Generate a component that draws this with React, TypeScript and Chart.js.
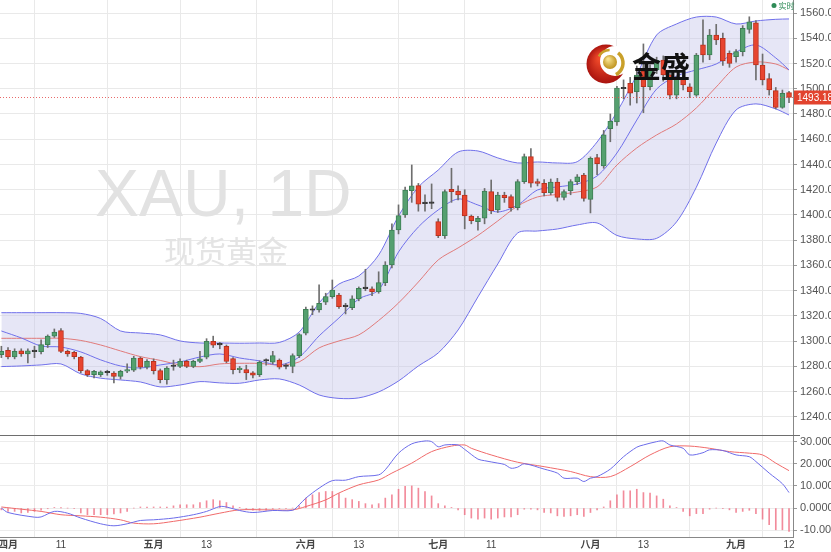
import { useEffect, useRef } from 'react';
import { Chart, registerables } from 'chart.js';

Chart.register(...registerables);

// ---- candle data (index -1 = 29 Mar ... 118 = 12 Sep) ----
const START = -1;
const opens = [
  1289.4, 1292.8, 1287.5, 1292.3, 1289.9, 1291.8, 1291.7, 1297.3, 1304.0, 1308.4,
  1292.0, 1291.2, 1287.5, 1276.7, 1273.5, 1273.5, 1275.5, 1274.8, 1272.2, 1276.2,
  1277.0, 1286.7, 1279.4, 1284.0, 1276.7, 1269.6, 1280.0, 1280.0, 1284.0, 1280.0,
  1284.0, 1287.3, 1300.0, 1297.5, 1296.0, 1286.2, 1277.5, 1277.5, 1275.0, 1273.5,
  1284.3, 1283.3, 1285.0, 1280.0, 1280.0, 1288.6, 1306.3, 1324.5, 1324.8, 1330.9,
  1335.3, 1336.6, 1327.4, 1326.6, 1333.5, 1341.6, 1341.4, 1339.2, 1346.4, 1360.4,
  1388.1, 1400.0, 1419.3, 1423.2, 1409.0, 1409.6, 1394.7, 1383.6, 1420.4, 1419.0,
  1415.8, 1399.2, 1394.7, 1397.4, 1418.5, 1404.0, 1415.8, 1414.5, 1405.8, 1426.4,
  1446.2, 1426.4, 1425.1, 1417.7, 1426.0, 1414.0, 1419.3, 1426.4, 1431.7, 1412.4,
  1445.4, 1438.8, 1468.4, 1473.7, 1500.4, 1504.3, 1497.7, 1514.0, 1501.6, 1515.0,
  1522.8, 1511.0, 1495.0, 1508.0, 1501.6, 1495.0, 1534.7, 1526.7, 1542.6, 1540.0,
  1528.0, 1525.4, 1529.4, 1547.0, 1552.3, 1518.8, 1508.0, 1498.5, 1485.3, 1496.9,
];
const closes = [
  1292.0, 1287.5, 1292.0, 1289.9, 1292.3, 1292.2, 1297.3, 1304.0, 1307.3, 1292.0,
  1290.0, 1287.8, 1276.7, 1273.5, 1276.2, 1275.7, 1275.0, 1272.2, 1276.2, 1277.5,
  1286.7, 1279.4, 1284.0, 1276.7, 1269.6, 1278.8, 1280.3, 1284.0, 1280.0, 1284.0,
  1286.0, 1300.0, 1296.8, 1297.1, 1284.0, 1277.5, 1278.2, 1274.9, 1273.0, 1283.2,
  1284.6, 1288.6, 1279.4, 1280.3, 1288.6, 1305.2, 1325.3, 1325.0, 1330.0, 1335.3,
  1340.6, 1327.4, 1327.8, 1333.5, 1341.9, 1341.9, 1339.2, 1346.4, 1360.4, 1388.1,
  1399.5, 1419.8, 1423.0, 1408.5, 1409.5, 1409.2, 1383.6, 1418.5, 1418.5, 1415.8,
  1399.2, 1395.5, 1397.3, 1419.0, 1403.4, 1415.8, 1413.7, 1405.8, 1426.4, 1446.2,
  1425.1, 1425.0, 1417.7, 1426.0, 1414.0, 1418.5, 1426.4, 1430.3, 1413.2, 1444.9,
  1440.6, 1463.4, 1474.2, 1500.6, 1500.0, 1496.4, 1510.9, 1501.6, 1514.9, 1522.5,
  1510.9, 1495.0, 1508.0, 1503.0, 1497.7, 1526.7, 1526.7, 1542.6, 1538.6, 1522.0,
  1520.0, 1529.4, 1547.9, 1553.0, 1518.8, 1507.0, 1499.0, 1485.3, 1496.4, 1493.2,
];
const highs = [
  1296, 1295, 1294, 1294, 1294, 1296, 1301, 1305, 1309.7, 1310,
  1293, 1292, 1288, 1277.5, 1277, 1276.5, 1277, 1276, 1277, 1282,
  1288, 1287.5, 1285.5, 1286, 1278, 1280, 1285, 1286, 1285, 1285,
  1292, 1302, 1304, 1299, 1297, 1287, 1280, 1281, 1276, 1284.5,
  1286, 1292, 1286, 1282, 1290, 1306, 1327, 1328, 1344.6, 1338,
  1348.5, 1338, 1330, 1336, 1343, 1357, 1343, 1355, 1363, 1393,
  1408, 1422, 1439.6, 1425, 1416, 1424.6, 1397, 1420, 1437, 1423,
  1420, 1400, 1399, 1421, 1427.7, 1418, 1418, 1416, 1428, 1448.3,
  1452.6, 1428.5, 1428, 1428.5, 1429, 1420, 1428, 1432, 1433, 1446,
  1448, 1467, 1480, 1502, 1507, 1509, 1518, 1535.5, 1519, 1525,
  1526, 1513, 1510, 1511, 1504, 1528, 1554.5, 1547, 1551, 1544,
  1530, 1531, 1550, 1557, 1554, 1527.5, 1512, 1501, 1499, 1498,
];
const lows = [
  1287, 1286, 1286, 1288, 1282.8, 1287, 1290, 1295, 1303, 1291,
  1288, 1286, 1275, 1272, 1271, 1272, 1273, 1266.9, 1270, 1275,
  1276, 1278, 1278, 1274, 1267, 1266, 1277, 1279, 1279, 1279,
  1283, 1286, 1295, 1294, 1283, 1274, 1275, 1269.6, 1271, 1272,
  1281, 1282, 1278, 1278, 1275, 1287, 1305, 1321, 1323, 1329,
  1334, 1326, 1321.6, 1325, 1332, 1340, 1336, 1338, 1344, 1358,
  1385, 1398, 1410, 1403, 1403, 1405, 1382, 1381.5, 1410, 1412,
  1389, 1393, 1388, 1393, 1401, 1402, 1410, 1403, 1404, 1425,
  1422, 1423, 1415, 1416, 1411, 1412, 1416, 1424, 1411, 1401.6,
  1432, 1437, 1458, 1471, 1492, 1487, 1488.7, 1481, 1499, 1512,
  1506, 1492, 1492, 1499, 1493, 1494, 1521, 1523, 1535, 1518.5,
  1517, 1521, 1526, 1544, 1507, 1503, 1495, 1484, 1484.5, 1489,
];

// ---- Bollinger band + moving averages (read at sample days) ----
const bandIdx = [-1, 2, 5, 8, 11, 14, 17, 20, 23, 26, 29, 32, 35, 38, 41, 44, 47, 50, 53, 56, 59, 62, 65, 68, 71, 74, 77, 80, 83, 86, 89, 92, 95, 98, 101, 104, 107, 110, 113, 116, 118];
const upperBand = [1322.6, 1322.6, 1322.6, 1322.6, 1322.0, 1318.0, 1308.1, 1306.5, 1305.0, 1300.2, 1298.6, 1298.6, 1298.4, 1298.6, 1299.0, 1307.3, 1330.3, 1345.3, 1351.7, 1368.3, 1399.2, 1422.2, 1435.6, 1449.9, 1450.7, 1445.2, 1441.2, 1442.0, 1441.2, 1442.2, 1457.8, 1481.6, 1510.9, 1542.6, 1551.3, 1556.8, 1556.8, 1551.3, 1553.7, 1555.0, 1555.3];
const lowerBand = [1279.9, 1280.4, 1281.2, 1282.0, 1274.1, 1270.7, 1269.3, 1267.7, 1263.8, 1265.3, 1268.0, 1267.0, 1266.7, 1269.3, 1270.1, 1265.3, 1257.4, 1254.7, 1255.1, 1259.8, 1268.5, 1280.4, 1290.7, 1308.9, 1335.1, 1361.2, 1385.7, 1387.3, 1388.9, 1392.1, 1393.7, 1383.8, 1381.0, 1381.5, 1394.5, 1422.0, 1457.0, 1483.2, 1488.0, 1484.0, 1479.2];
const midLine = [1302.3, 1302.3, 1302.3, 1302.3, 1300.6, 1297.0, 1292.3, 1287.8, 1284.8, 1281.2, 1279.8, 1282.0, 1282.5, 1282.4, 1281.2, 1283.6, 1294.7, 1300.2, 1305.0, 1316.4, 1330.3, 1346.9, 1364.4, 1373.9, 1383.8, 1395.3, 1407.1, 1414.3, 1416.2, 1418.2, 1422.2, 1439.6, 1453.1, 1463.4, 1472.1, 1484.8, 1501.4, 1517.2, 1521.2, 1519.6, 1514.9];
const fastLine = [1308.1, 1302.6, 1296.2, 1295.4, 1291.5, 1285.2, 1280.4, 1278.8, 1281.2, 1283.6, 1287.5, 1289.9, 1286.7, 1284.4, 1281.2, 1287.5, 1304.2, 1318.4, 1333.5, 1340.6, 1370.7, 1390.5, 1404.0, 1412.7, 1407.9, 1402.4, 1407.9, 1419.8, 1422.2, 1424.6, 1430.9, 1449.1, 1475.2, 1499.8, 1510.1, 1514.9, 1519.6, 1529.1, 1534.7, 1524.4, 1514.9];

// ---- MACD ----
const difIdx = [-1, 0, 4, 5, 7, 9, 11, 14, 16, 18, 20, 22, 25, 28, 30, 32, 33, 35, 37, 40, 43, 44, 45, 47, 49, 51, 53, 56, 57, 59, 61, 63, 64, 65, 66, 68, 69, 71, 72, 74, 75, 76, 77, 78, 81, 83, 84, 86, 87, 88, 89, 91, 93, 95, 96, 98, 99, 100, 102, 103, 105, 106, 108, 110, 112, 113, 115, 117, 118];
const difVals = [0.0, -2.0, -4.1, -4.0, -1.5, -2.3, -4.5, -7.1, -8.0, -7.1, -5.6, -5.3, -4.5, -3.0, -1.5, 0.7, 0.5, -1.1, -2.0, -1.1, -1.0, 1.5, 4.5, 9.0, 12.4, 12.6, 14.2, 15.0, 17.3, 24.8, 29.0, 30.3, 30.0, 27.7, 28.5, 28.5, 26.5, 22.1, 21.4, 20.3, 19.7, 18.0, 18.5, 20.0, 17.6, 15.8, 13.5, 13.5, 12.0, 13.5, 14.2, 17.6, 23.2, 27.5, 28.5, 30.0, 30.3, 28.5, 27.0, 24.0, 25.0, 26.3, 26.0, 24.0, 23.2, 21.0, 15.8, 11.0, 7.0];
const deaIdx = [-1, 2, 5, 8, 11, 14, 17, 19, 22, 25, 29, 32, 35, 39, 43, 45, 48, 50, 53, 56, 58, 61, 64, 67, 69, 70, 73, 77, 81, 85, 88, 91, 94, 97, 100, 103, 106, 109, 112, 114, 116, 118];
const deaVals = [0.5, -0.5, -1.5, -3.0, -3.5, -4.1, -5.3, -6.8, -7.1, -6.0, -4.1, -2.3, -0.8, -0.8, -0.8, 0.7, 3.7, 6.8, 10.5, 12.7, 15.8, 20.3, 25.5, 28.0, 28.5, 27.0, 24.0, 20.7, 18.7, 16.5, 14.2, 14.2, 18.7, 24.0, 27.7, 28.0, 27.0, 25.5, 24.8, 24.0, 20.3, 16.9];
const macdHist = [
  -0.8, -1.5, -1.5, -2.2, -2.0, -1.5, -1.0, -0.3, 0.3, 0.1,
  0.0, -0.2, -2.2, -3.0, -3.0, -3.0, -3.0, -2.6, -2.2, -1.5,
  0.0, 0.5, 0.5, 0.5, 0.5, 0.5, 1.0, 1.5, 1.5, 1.5,
  2.5, 3.3, 3.8, 3.3, 2.5, 1.0, 0.3, -0.5, -1.0, -1.0,
  -1.0, -0.5, -0.3, -0.3, 0.0, 1.0, 4.5, 6.0, 7.0, 7.5,
  7.5, 6.5, 4.5, 3.8, 3.0, 2.0, 1.5, 2.0, 4.5, 6.0,
  8.5, 9.8, 10.0, 9.0, 7.5, 5.5, 2.0, 1.0, 0.3, -0.8,
  -3.0, -4.5, -5.0, -4.5, -5.0, -4.5, -4.0, -4.0, -3.0, -0.5,
  -0.5, -0.8, -2.0, -2.2, -3.5, -3.8, -3.5, -3.0, -3.8, -2.0,
  -0.8, 0.5, 3.3, 6.0, 7.8, 7.8, 8.5, 7.0, 6.8, 5.5,
  4.0, 1.0, 0.3, -1.5, -3.5, -2.5, -2.5, -0.5, 0.0, -0.3,
  -0.8, -2.0, -1.5, -1.0, -2.5, -5.0, -7.5, -9.8, -9.8, -10.5,
];

// ---- axes ----
const xTickIdx = [0, 8, 22, 30, 45, 53, 65, 73, 88, 96, 110, 118];
const xTickLabels = ['四月', '11', '五月', '13', '六月', '13', '七月', '11', '八月', '13', '九月', '12'];
const priceTicks = [1240, 1260, 1280, 1300, 1320, 1340, 1360, 1380, 1400, 1420, 1440, 1460, 1480, 1500, 1520, 1540, 1560];
const macdTicks = [-10, 0, 10, 20, 30];
const lastPrice = 1493.18;
const X_MIN = -1.21;
const X_MAX = 118.6;
const PRICE_MIN = 1225.7;
const PRICE_MAX = 1570.3;
const MACD_MIN = -13.06;
const MACD_MAX = 33.0;

const dayIdx = opens.map((_, k) => START + k);

const GREEN = '#55a06f';
const GREEN_B = '#3d7f55';
const RED = '#e8452f';
const RED_B = '#b8321f';
const BLUE = '#7070ea';
const MID_RED = '#e07a7a';

function candleKind(k: number) {
  const d = closes[k] - opens[k];
  if (Math.abs(d) < 0.6) return 'doji';
  return d > 0 ? 'up' : 'down';
}

const decorPlugin = {
  id: 'decor',
  beforeDatasetsDraw(chart: any) {
    const { ctx } = chart;
    ctx.save();
    ctx.fillStyle = '#e2e2e2';
    ctx.textBaseline = 'alphabetic';
    ctx.textAlign = 'left';
    ctx.font = '66px "Liberation Sans", Arial, sans-serif';
    ctx.fillText('XAU, 1D', 95, 216);
    ctx.fillStyle = '#e4e4e4';
    ctx.font = '31px "Noto Sans CJK SC", sans-serif';
    ctx.fillText('现货黄金', 164, 263);
    ctx.restore();
  },
  afterDraw(chart: any) {
    const { ctx, chartArea, scales } = chart;
    ctx.save();
    // panel separator
    const sepY = Math.round(scales.y2.top) + 0.5;
    ctx.strokeStyle = '#6e6e6e';
    ctx.lineWidth = 1;
    ctx.beginPath();
    ctx.moveTo(0, sepY);
    ctx.lineTo(chartArea.right + 7, sepY);
    ctx.stroke();

    // current price line
    const py = Math.round(scales.y.getPixelForValue(lastPrice)) + 0.5;
    ctx.strokeStyle = 'rgba(228,80,80,0.85)';
    ctx.setLineDash([1, 2]);
    ctx.beginPath();
    ctx.moveTo(chartArea.left, py);
    ctx.lineTo(chartArea.right, py);
    ctx.stroke();
    ctx.setLineDash([]);
    ctx.fillStyle = '#e2432e';
    ctx.fillRect(chartArea.right + 1, py - 7, 40, 14);
    ctx.fillStyle = '#ffffff';
    ctx.font = '10px "Liberation Sans", Arial, sans-serif';
    ctx.textBaseline = 'middle';
    ctx.textAlign = 'left';
    ctx.fillText(lastPrice.toFixed(2), chartArea.right + 4, py + 0.5);

    // logo: red crescent, gold swoosh and ball
    const cx = 606;
    const cy = 64;
    const g1 = ctx.createRadialGradient(cx - 6, cy - 6, 2, cx, cy, 20);
    g1.addColorStop(0, '#f04a2a');
    g1.addColorStop(1, '#a8120e');
    ctx.fillStyle = g1;
    ctx.beginPath();
    ctx.arc(cx, cy, 19.5, 0, Math.PI * 2);
    ctx.fill();
    ctx.fillStyle = '#ffffff';
    ctx.beginPath();
    ctx.arc(cx + 9, cy - 3, 15, 0, Math.PI * 2);
    ctx.fill();
    ctx.strokeStyle = '#c9a02a';
    ctx.lineWidth = 3.5;
    ctx.beginPath();
    ctx.arc(cx + 4, cy - 1, 13, -0.9, 1.1);
    ctx.stroke();
    ctx.lineWidth = 2.5;
    ctx.beginPath();
    ctx.arc(cx + 4, cy - 1, 13, -2.6, -1.6);
    ctx.stroke();
    const g2 = ctx.createRadialGradient(cx + 2, cy - 5, 1, cx + 4, cy - 2, 8);
    g2.addColorStop(0, '#f7e08a');
    g2.addColorStop(1, '#b88a12');
    ctx.fillStyle = g2;
    ctx.beginPath();
    ctx.arc(cx + 4, cy - 2, 7, 0, Math.PI * 2);
    ctx.fill();
    ctx.fillStyle = '#111111';
    ctx.font = 'bold 29px "Noto Sans CJK SC", sans-serif';
    ctx.textBaseline = 'alphabetic';
    ctx.fillText('金盛', 632, 78);

    // realtime tag
    ctx.fillStyle = '#2e8b57';
    ctx.beginPath();
    ctx.arc(774, 5.5, 2.5, 0, Math.PI * 2);
    ctx.fill();
    ctx.font = '8px "Noto Sans CJK SC", sans-serif';
    ctx.textBaseline = 'middle';
    ctx.fillText('实时', 778.5, 5.5);
    ctx.restore();
  },
};

export default function App() {
  const ref = useRef<HTMLCanvasElement>(null);

  useEffect(() => {
    if (!ref.current) return;
    Chart.defaults.font.family = '"Liberation Sans", Arial, "Noto Sans CJK SC", sans-serif';
    const lineCommon = { type: 'line' as const, pointRadius: 0, borderWidth: 1, tension: 0.3 };
    const chart = new Chart(ref.current, {
      type: 'bar',
      data: {
        datasets: [
          {
            ...lineCommon,
            label: 'upper',
            data: bandIdx.map((x, k) => ({ x, y: upperBand[k] })),
            borderColor: BLUE,
            backgroundColor: 'rgba(196,196,234,0.42)',
            fill: '+1',
            yAxisID: 'y',
            order: 20,
          },
          {
            ...lineCommon,
            label: 'lower',
            data: bandIdx.map((x, k) => ({ x, y: lowerBand[k] })),
            borderColor: BLUE,
            fill: false,
            yAxisID: 'y',
            order: 19,
          },
          {
            ...lineCommon,
            label: 'mid',
            data: bandIdx.map((x, k) => ({ x, y: midLine[k] })),
            borderColor: MID_RED,
            fill: false,
            yAxisID: 'y',
            order: 18,
          },
          {
            ...lineCommon,
            label: 'fast',
            data: bandIdx.map((x, k) => ({ x, y: fastLine[k] })),
            borderColor: BLUE,
            fill: false,
            yAxisID: 'y',
            order: 17,
          },
          {
            type: 'bar',
            label: 'wick',
            data: dayIdx.map((x, k) => ({ x, y: [lows[k], highs[k]] })) as any,
            backgroundColor: '#6e6e6e',
            barThickness: 1,
            grouped: false,
            yAxisID: 'y',
            order: 12,
          },
          {
            type: 'bar',
            label: 'body',
            data: dayIdx.map((x, k) => ({ x, y: [opens[k], closes[k]] })) as any,
            backgroundColor: (c: any) => {
              const kind = candleKind(c.dataIndex);
              return kind === 'up' ? GREEN : kind === 'down' ? RED : '#333333';
            },
            borderColor: (c: any) => {
              const kind = candleKind(c.dataIndex);
              return kind === 'up' ? GREEN_B : kind === 'down' ? RED_B : '#333333';
            },
            borderWidth: 1,
            borderSkipped: false,
            barThickness: 5,
            minBarLength: 1.5,
            grouped: false,
            yAxisID: 'y',
            order: 11,
          },
          {
            type: 'bar',
            label: 'hist',
            data: dayIdx.map((x, k) => ({ x, y: macdHist[k] })) as any,
            backgroundColor: 'rgba(236,90,112,0.7)',
            barThickness: 1,
            grouped: false,
            yAxisID: 'y2',
            order: 8,
          },
          {
            ...lineCommon,
            label: 'DIF',
            data: difIdx.map((x, k) => ({ x, y: difVals[k] })),
            borderColor: '#6c6cea',
            fill: false,
            yAxisID: 'y2',
            order: 6,
          },
          {
            ...lineCommon,
            label: 'DEA',
            data: deaIdx.map((x, k) => ({ x, y: deaVals[k] })),
            borderColor: '#f06a6a',
            fill: false,
            yAxisID: 'y2',
            order: 7,
          },
        ] as any,
      },
      options: {
        responsive: false,
        animation: false,
        devicePixelRatio: 1,
        events: [],
        layout: { padding: 0 },
        plugins: { legend: { display: false }, tooltip: { enabled: false } },
        scales: {
          x: {
            type: 'linear',
            min: X_MIN,
            max: X_MAX,
            offset: false,
            afterBuildTicks: (s: any) => {
              s.ticks = xTickIdx.map((v) => ({ value: v }));
            },
            afterFit: (s: any) => {
              s.height = 15;
              s.paddingLeft = 0;
              s.paddingRight = 0;
            },
            ticks: {
              autoSkip: false,
              maxRotation: 0,
              minRotation: 0,
              padding: 2,
              color: '#444',
              font: (c: any) => ({
                size: 10,
                weight: (xTickLabels[c.index] || '').includes('月') ? 'bold' : 'normal',
              }),
              callback: (v: any) => {
                const i = xTickIdx.indexOf(Number(v));
                return i >= 0 ? xTickLabels[i] : '';
              },
            },
            grid: { color: '#e9e9e9', drawTicks: false },
            border: { display: true, color: '#888' },
          },
          y: {
            type: 'linear',
            position: 'right',
            stack: 'panels',
            stackWeight: 435,
            min: PRICE_MIN,
            max: PRICE_MAX,
            afterBuildTicks: (s: any) => {
              s.ticks = priceTicks.map((v) => ({ value: v }));
            },
            afterFit: (s: any) => {
              s.width = 38;
              s.paddingTop = 0;
              s.paddingBottom = 0;
            },
            ticks: {
              autoSkip: false,
              padding: 3,
              color: '#555',
              font: { size: 11 },
              callback: (v: any) => Number(v).toFixed(2),
            },
            grid: { color: '#e9e9e9', tickLength: 4, tickColor: '#999' },
            border: { display: true, color: '#888' },
          },
          y2: {
            type: 'linear',
            position: 'right',
            stack: 'panels',
            stackWeight: 102,
            min: MACD_MIN,
            max: MACD_MAX,
            afterBuildTicks: (s: any) => {
              s.ticks = macdTicks.map((v) => ({ value: v }));
            },
            afterFit: (s: any) => {
              s.width = 38;
              s.paddingTop = 0;
              s.paddingBottom = 0;
            },
            ticks: {
              autoSkip: false,
              padding: 3,
              color: '#555',
              font: { size: 11 },
              callback: (v: any) => Number(v).toFixed(4),
            },
            grid: { color: '#ececec', tickLength: 4, tickColor: '#999' },
            border: { display: true, color: '#888' },
          },
        },
      } as any,
      plugins: [decorPlugin],
    });
    return () => chart.destroy();
  }, []);

  return (
    <div style={{ position: 'absolute', left: 0, top: 0, width: 831, height: 552, background: '#ffffff' }}>
      <canvas ref={ref} width={831} height={552} style={{ display: 'block' }} />
    </div>
  );
}
